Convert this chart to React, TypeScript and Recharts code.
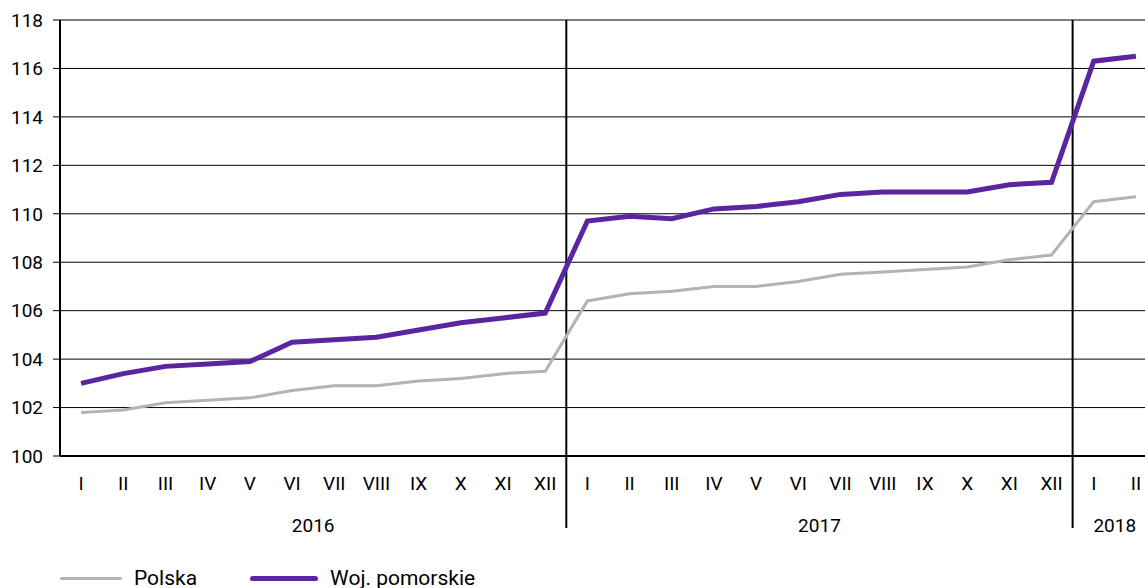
import { LineChart, Line, XAxis, YAxis, CartesianGrid, ReferenceLine } from 'recharts'

const MONTHS = ['I', 'II', 'III', 'IV', 'V', 'VI', 'VII', 'VIII', 'IX', 'X', 'XI', 'XII',
  'I', 'II', 'III', 'IV', 'V', 'VI', 'VII', 'VIII', 'IX', 'X', 'XI', 'XII',
  'I', 'II']

const POLSKA = [101.8, 101.9, 102.2, 102.3, 102.4, 102.7, 102.9, 102.9, 103.1, 103.2, 103.4, 103.5,
  106.4, 106.7, 106.8, 107.0, 107.0, 107.2, 107.5, 107.6, 107.7, 107.8, 108.1, 108.3,
  110.5, 110.7]

const POMORSKIE = [103.0, 103.4, 103.7, 103.8, 103.9, 104.7, 104.8, 104.9, 105.2, 105.5, 105.7, 105.9,
  109.7, 109.9, 109.8, 110.2, 110.3, 110.5, 110.8, 110.9, 110.9, 110.9, 111.2, 111.3,
  116.3, 116.5]

// year label sits in the middle of its months, separators between years
const YEARS = [
  { label: '2016', at: 5.5 },
  { label: '2017', at: 17.5 },
  { label: '2018', at: 24.5 },
]
const YEAR_BREAKS = [11.5, 23.5]

const Y_TICKS = [100, 102, 104, 106, 108, 110, 112, 114, 116, 118]

const SERIES = [
  { key: 'polska', name: 'Polska', color: '#b3b3b3', width: 3, legendLen: 62 },
  { key: 'pomorskie', name: 'Woj. pomorskie', color: '#5b25a0', width: 5, legendLen: 68 },
]

const data = MONTHS.map((m, i) => ({ idx: i, month: m, polska: POLSKA[i], pomorskie: POMORSKIE[i] }))

const FONT = 'Roboto, "Noto Sans", sans-serif'

// separator runs from the top of the plot down through the axis labels
function BreakLine(props: any) {
  const { x1, y1, x2, y2 } = props
  const top = Math.min(y1, y2)
  const bottom = Math.max(y1, y2) + 72
  return <line x1={x1} y1={top} x2={x2} y2={bottom} stroke="#000" strokeWidth={2} />
}

export default function App() {
  return (
    <div style={{ position: 'absolute', left: 0, top: 0, width: 1145, height: 588, overflow: 'hidden', background: '#fff', fontFamily: FONT }}>
      <LineChart width={1157} height={588} data={data} margin={{ top: 20, right: 0, left: 0, bottom: 42 }}>
        <CartesianGrid vertical={false} stroke="#000" strokeWidth={1} />
        <XAxis
          dataKey="idx"
          type="number"
          domain={[-0.5, 25.5]}
          ticks={MONTHS.map((_, i) => i)}
          tickFormatter={(v: number) => MONTHS[v]}
          interval={0}
          height={50}
          tickSize={0}
          tickMargin={21}
          tickLine={false}
          axisLine={{ stroke: '#000', strokeWidth: 2 }}
          tick={{ fontSize: 19, fill: '#000', fontFamily: FONT }}
        />
        <XAxis
          xAxisId="year"
          dataKey="idx"
          type="number"
          domain={[-0.5, 25.5]}
          ticks={YEARS.map((y) => y.at)}
          tickFormatter={(v: number) => YEARS.find((y) => y.at === v)?.label ?? ''}
          interval={0}
          height={40}
          tickSize={0}
          tickMargin={13}
          tickLine={false}
          axisLine={false}
          tick={{ fontSize: 19, fill: '#000', fontFamily: FONT }}
        />
        <YAxis
          domain={[100, 118]}
          ticks={Y_TICKS}
          interval={0}
          width={60}
          tickSize={7}
          tickMargin={10}
          tickLine={{ stroke: '#000' }}
          axisLine={{ stroke: '#000', strokeWidth: 2 }}
          tick={{ fontSize: 19, fill: '#000', fontFamily: FONT }}
        />
        {YEAR_BREAKS.map((b) => (
          <ReferenceLine key={b} x={b} ifOverflow="visible" shape={BreakLine} />
        ))}
        {SERIES.map((s) => (
          <Line
            key={s.key}
            dataKey={s.key}
            name={s.name}
            stroke={s.color}
            strokeWidth={s.width}
            dot={false}
            type="linear"
            isAnimationActive={false}
          />
        ))}
      </LineChart>
      <div style={{ position: 'absolute', left: 60, top: 565, display: 'flex', alignItems: 'center', fontSize: 21, lineHeight: '26px', color: '#000' }}>
        {SERIES.map((s, i) => (
          <div key={s.key} style={{ display: 'flex', alignItems: 'center', marginRight: i === 0 ? 53 : 0 }}>
            <div style={{ width: s.legendLen, height: s.width, background: s.color, borderRadius: 3, marginRight: 12 }} />
            <span>{s.name}</span>
          </div>
        ))}
      </div>
    </div>
  )
}
